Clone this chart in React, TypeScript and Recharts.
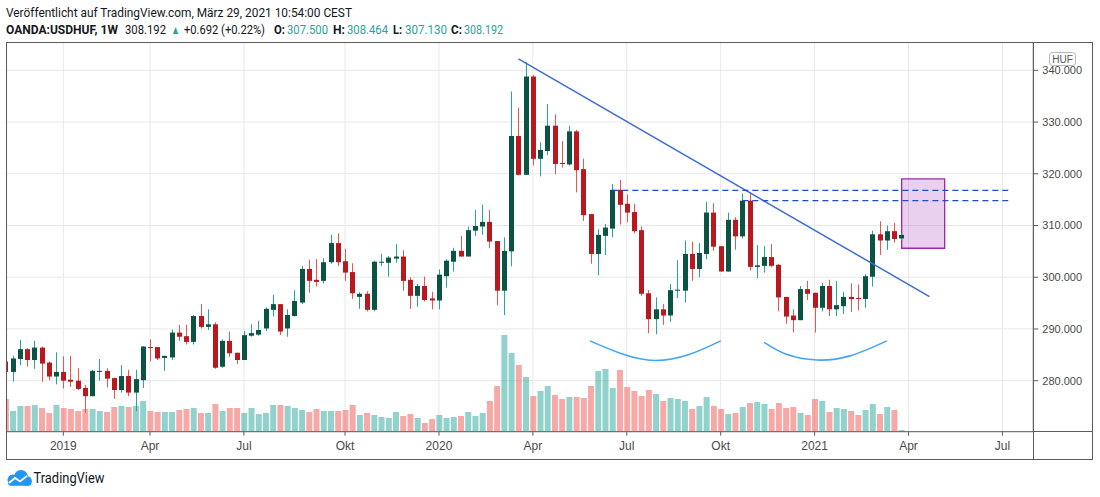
import React from "react";
import {
  Bar,
  CartesianGrid,
  Cell,
  ComposedChart,
  Line,
  ReferenceArea,
  ReferenceLine,
  XAxis,
  YAxis,
} from "recharts";

// OANDA:USDHUF weekly bars, first bar is the week of 2018-11-12
const FIRST_BAR = "2018-11-12";

const OPEN = [
  283.7, 281.7, 284.2, 286.1, 284.0, 286.4, 283.5, 280.8,
  281.7, 280.2, 280.0, 278.6, 277.0, 281.7, 281.9, 280.5, 278.2, 280.9,
  277.7, 280.1, 286.5, 286.5, 284.4, 284.5, 289.3, 288.6, 287.5, 292.5,
  290.4, 290.9, 282.7, 287.7, 285.4, 284.0, 288.7, 288.9, 290.1, 293.7,
  294.8, 290.1, 292.5, 295.1, 301.6, 299.5, 299.3, 302.9, 306.6, 303.1,
  301.0, 296.2, 296.8, 293.7, 302.8, 302.8, 303.6, 304.0, 299.5, 296.4,
  298.3, 295.9, 295.5, 300.2, 303.0, 305.1, 304.0, 309.0, 309.8, 310.7,
  307.0, 297.4, 305.0, 327.3, 319.8, 338.8, 322.9, 324.4, 329.3, 322.1,
  321.8, 328.2, 320.9, 312.2, 304.5, 308.0, 309.4, 316.9, 314.2, 312.6,
  309.1, 296.9, 291.9, 293.8, 292.6, 297.4, 297.4, 304.5, 301.6, 304.5,
  312.5, 306.0, 301.1, 311.1, 307.9, 314.8, 302.0, 302.2, 303.9, 302.4,
  296.2, 292.6, 291.7, 297.7, 297.0, 294.1, 298.3, 293.8, 294.4, 296.2,
  296.0, 295.8, 300.1, 308.3, 307.1, 308.9, 307.5,
];

const HIGH = [
  284.2, 284.8, 287.9, 286.3, 287.7, 286.6, 283.7, 285.5,
  284.7, 284.8, 282.4, 279.2, 282.1, 284.2, 282.4, 280.6, 283.0, 282.1,
  282.1, 286.7, 288.0, 286.5, 284.8, 289.9, 290.8, 290.8, 292.7, 294.8,
  293.8, 291.3, 288.0, 289.5, 285.4, 289.6, 290.9, 291.6, 294.2, 296.6,
  294.8, 293.8, 297.5, 302.2, 303.4, 303.5, 303.7, 308.2, 308.5, 305.5,
  302.7, 297.1, 297.3, 303.2, 304.5, 304.1, 306.4, 305.2, 300.0, 298.7,
  300.1, 297.2, 301.5, 303.5, 305.7, 308.0, 309.8, 313.0, 314.0, 313.0,
  307.0, 307.7, 335.9, 332.8, 341.6, 339.1, 326.1, 333.5, 331.5, 326.3,
  329.3, 328.5, 322.9, 312.2, 309.3, 310.3, 318.0, 318.8, 316.0, 314.2,
  309.8, 297.5, 296.1, 294.8, 298.7, 303.3, 307.1, 306.9, 306.6, 314.6,
  314.3, 306.0, 312.5, 311.6, 316.2, 316.4, 306.2, 306.0, 306.4, 302.6,
  296.2, 293.8, 298.3, 299.3, 297.0, 298.9, 299.5, 299.3, 297.2, 298.8,
  298.6, 300.6, 309.0, 310.8, 310.0, 310.5, 308.464,
];

const LOW = [
  281.0, 279.8, 283.0, 282.7, 282.3, 279.8, 280.1, 279.3,
  278.5, 278.8, 278.2, 273.8, 277.0, 280.0, 278.7, 276.5, 277.7, 277.0,
  274.1, 278.6, 283.7, 284.0, 281.9, 284.0, 287.7, 287.0, 287.0, 290.1,
  289.8, 282.3, 282.5, 284.6, 283.2, 284.0, 288.5, 288.7, 289.6, 292.4,
  288.8, 288.5, 292.4, 294.8, 297.0, 298.2, 298.8, 302.6, 302.2, 299.3,
  295.8, 293.9, 293.4, 293.4, 302.2, 300.1, 302.8, 297.4, 293.9, 294.3,
  295.3, 293.8, 293.8, 298.0, 301.1, 304.0, 304.0, 308.0, 308.2, 305.6,
  294.6, 292.7, 302.1, 319.7, 319.8, 321.6, 319.5, 323.6, 319.9, 321.2,
  321.6, 316.4, 310.9, 302.6, 300.4, 304.3, 307.7, 310.2, 310.6, 308.5,
  296.4, 289.2, 289.0, 290.8, 291.4, 296.0, 295.1, 299.3, 300.0, 303.5,
  305.1, 301.1, 301.1, 305.3, 307.5, 301.3, 299.8, 300.9, 301.9, 293.4,
  291.0, 289.3, 291.7, 295.6, 289.3, 293.4, 292.5, 292.5, 292.9, 293.3,
  293.6, 294.1, 298.2, 304.3, 305.3, 306.7, 307.13,
];

const CLOSE = [
  281.7, 284.3, 286.1, 284.0, 286.4, 283.3, 280.8, 281.7,
  280.0, 279.8, 278.4, 277.0, 281.9, 281.9, 280.4, 278.2, 280.9, 277.7,
  280.3, 286.6, 286.3, 284.3, 284.8, 289.3, 288.5, 287.5, 292.5, 290.4,
  290.9, 282.5, 287.7, 285.3, 284.0, 288.8, 289.2, 289.8, 293.9, 294.8,
  289.5, 292.7, 295.4, 301.6, 299.3, 299.1, 302.9, 306.6, 302.9, 300.9,
  296.9, 296.8, 293.7, 303.0, 303.0, 303.8, 304.0, 299.3, 296.4, 298.3,
  295.6, 295.5, 300.5, 303.2, 305.1, 304.0, 309.1, 309.9, 310.7, 306.9,
  297.4, 305.1, 327.3, 319.8, 338.8, 322.9, 324.6, 329.3, 321.9, 321.9,
  328.2, 320.7, 312.0, 304.5, 308.2, 309.6, 316.9, 314.0, 312.5, 308.9,
  296.8, 291.9, 293.8, 292.6, 297.5, 297.6, 304.5, 301.6, 304.7, 312.5,
  305.9, 301.1, 311.1, 307.9, 314.8, 302.0, 302.3, 303.9, 302.2, 296.1,
  292.4, 291.7, 297.7, 296.8, 294.1, 298.3, 293.8, 294.6, 296.2, 295.8,
  295.8, 300.2, 308.3, 307.1, 308.9, 307.4, 308.192,
];

// volume, arbitrary units
const VOLUME = [
  327, 207, 257, 257, 267, 237, 187, 267,
  237, 227, 207, 227, 227, 207, 197, 247, 257, 247,
  257, 307, 207, 197, 197, 197, 217, 227, 237, 187,
  187, 277, 207, 237, 237, 187, 237, 177, 187, 267,
  267, 257, 237, 217, 197, 227, 207, 207, 207, 217,
  267, 167, 187, 167, 147, 137, 197, 157, 177, 137,
  87, 127, 167, 137, 147, 157, 197, 157, 187, 307,
  457, 967, 787, 667, 547, 357, 407, 457, 367, 327,
  347, 347, 337, 457, 607, 627, 437, 617, 447, 407,
  357, 417, 377, 307, 337, 327, 307, 227, 257, 347,
  257, 227, 177, 187, 247, 287, 297, 277, 227, 287,
  237, 247, 187, 167, 327, 307, 197, 237, 227, 207,
  167, 217, 277, 177, 247, 217, 17,
];

// first weekly bar of each labelled month
const TIME_TICKS = [
  ["2019-01-07", "2019"],
  ["2019-04-01", "Apr"],
  ["2019-07-01", "Jul"],
  ["2019-10-07", "Okt"],
  ["2020-01-06", "2020"],
  ["2020-04-06", "Apr"],
  ["2020-07-06", "Jul"],
  ["2020-10-05", "Okt"],
  ["2021-01-04", "2021"],
  ["2021-04-05", "Apr"],
  ["2021-07-05", "Jul"],
];

const PRICE_TICKS = [280, 290, 300, 310, 320, 330, 340];

// drawings, x in weeks since FIRST_BAR
const TRENDLINE = [
  { x: 71.0, y: 342.2 },
  { x: 127.9, y: 296.25 },
];
const LEVELS = [
  { from: 84, to: 138.8, price: 316.8 },
  { from: 102, to: 138.8, price: 314.8 },
];
const TARGET_BOX = { x1: 124.05, x2: 130.0, y1: 305.6, y2: 319.0 };
const ARC_LEFT = [
  { x: 80.9, y: 287.7 },
  { x: 85.5, y: 285.1 },
  { x: 89.9, y: 283.9 },
  { x: 94.5, y: 285.0 },
  { x: 99.0, y: 287.7 },
];
const ARC_RIGHT = [
  { x: 105.0, y: 287.4 },
  { x: 108.1, y: 285.1 },
  { x: 112.3, y: 284.0 },
  { x: 116.9, y: 284.8 },
  { x: 122.0, y: 287.7 },
];

const X_DOMAIN = [0.165, 142.27];
const PRICE_DOMAIN = [270.14, 345.34];
const VOLUME_DOMAIN = [0, 3890];

const WEEK_MS = 7 * 24 * 3600 * 1000;
const weekOf = (iso: string) => Math.round((Date.parse(iso) - Date.parse(FIRST_BAR)) / WEEK_MS);

const tickWeeks = TIME_TICKS.map(([d]) => weekOf(d));
const tickLabel = new Map(TIME_TICKS.map(([d, l]) => [weekOf(d), l]));

const data = OPEN.map((open, i) => ({
  x: i,
  open,
  high: HIGH[i],
  low: LOW[i],
  close: CLOSE[i],
  volume: VOLUME[i],
}));

const UP_BODY = "#0b5443";
const UP_WICK = "#26a69a";
const DOWN_BODY = "#b9181e";
const DOWN_WICK = "#ef5350";
const AXIS = "#5c5c5c";
const TEXT = "#4a4a4a";
const FONT = "'Liberation Sans', Arial, sans-serif";
const BODY_W = 5;

function Candle(props: any) {
  const { x, y, width, height, payload } = props;
  const { open, close, high, low } = payload;
  const up = close >= open;
  const top = Math.min(y, y + height);
  const span = Math.abs(height);
  const py = (v: number) => top + ((high - v) / (high - low || 1)) * span;
  const cx = Math.round(x + width / 2) + 0.5;
  const bodyTop = py(Math.max(open, close));
  const bodyBot = py(Math.min(open, close));
  return (
    <g>
      <line x1={cx} x2={cx} y1={top} y2={top + span} stroke={up ? UP_WICK : DOWN_WICK} strokeWidth={1} />
      <rect
        x={cx - BODY_W / 2}
        y={bodyTop}
        width={BODY_W}
        height={Math.max(1, bodyBot - bodyTop)}
        fill={up ? UP_BODY : DOWN_BODY}
      />
    </g>
  );
}

const QUOTE = [
  { t: "OANDA:USDHUF, 1W", x: 6, w: 112, bold: true },
  { t: "308.192", x: 125, w: 41 },
  { t: "▲", x: 171, w: 9, teal: true },
  { t: "+0.692 (+0.22%)", x: 184, w: 81 },
  { t: "O:", x: 274, w: 11, bold: true },
  { t: "307.500", x: 287, w: 41, teal: true },
  { t: "H:", x: 333, w: 12, bold: true },
  { t: "308.464", x: 347, w: 41, teal: true },
  { t: "L:", x: 393, w: 9, bold: true },
  { t: "307.130", x: 405, w: 42, teal: true },
  { t: "C:", x: 451, w: 11, bold: true },
  { t: "308.192", x: 464, w: 39, teal: true },
];

function Header() {
  return (
    <svg width={1100} height={40} style={{ position: "absolute", left: 0, top: 0 }}>
      <text
        x={6}
        y={16.5}
        fontFamily="Roboto, sans-serif"
        fontSize={13.5}
        fill="#131722"
        textLength={346}
        lengthAdjust="spacingAndGlyphs"
      >
        Veröffentlicht auf TradingView.com, März 29, 2021 10:54:00 CEST
      </text>
      {QUOTE.map((q) => (
        <text
          key={q.x}
          x={q.x}
          y={33.5}
          fontFamily="Roboto, sans-serif"
          fontSize={12}
          fontWeight={q.bold ? 700 : 400}
          fill={q.teal ? "#26a69a" : "#131722"}
          textLength={q.w}
          lengthAdjust="spacingAndGlyphs"
        >
          {q.t}
        </text>
      ))}
    </svg>
  );
}

function Frame() {
  return (
    <svg
      width={1100}
      height={497}
      style={{ position: "absolute", left: 0, top: 0, pointerEvents: "none" }}
    >
      <rect x={6.5} y={42.5} width={1086} height={417} fill="none" stroke={AXIS} strokeWidth={1} />
      <line x1={1033.5} x2={1033.5} y1={42.5} y2={459.5} stroke={AXIS} />
      <line x1={1033.5} x2={1092.5} y1={431.5} y2={431.5} stroke={AXIS} />
      <rect x={1049.5} y={52.5} width={26} height={13} rx={3} fill="#fff" stroke="#b8b8b8" />
      <text x={1062.5} y={62.5} textAnchor="middle" fontFamily={FONT} fontSize={10} fill="#555">
        HUF
      </text>
      {/* TradingView logo */}
      <g fill="#2196f3">
        <circle cx={13} cy={480} r={5.5} />
        <circle cx={21} cy={477} r={7} />
        <circle cx={27} cy={481} r={4.8} />
        <rect x={8} y={479} width={23.5} height={6.8} rx={3} />
      </g>
      <polyline points="9,483 15,478 20,481.5 27,476" fill="none" stroke="#fff" strokeWidth={1.8} />
      <text
        x={33.5}
        y={483}
        fontFamily="Roboto, sans-serif"
        fontSize={15}
        fill="#131722"
        textLength={71}
        lengthAdjust="spacingAndGlyphs"
      >
        TradingView
      </text>
    </svg>
  );
}

export default function App() {
  return (
    <div
      style={{
        position: "absolute",
        left: 0,
        top: 0,
        width: 1100,
        height: 497,
        background: "#fff",
        fontFamily: FONT,
      }}
    >
      <Header />
      <div style={{ position: "absolute", left: 0, top: 0 }}>
        <ComposedChart
          width={1100}
          height={497}
          data={data}
          margin={{ top: 42.7, right: 7.7, bottom: 37.3, left: 6.7 }}
        >
          <CartesianGrid xAxisId="t" yAxisId="p" stroke="#e8e8e8" />
          <XAxis
            xAxisId="t"
            dataKey="x"
            type="number"
            domain={X_DOMAIN}
            allowDataOverflow
            ticks={tickWeeks}
            interval={0}
            tickFormatter={(v) => tickLabel.get(v) ?? ""}
            height={28}
            tickSize={4}
            tickMargin={6}
            tick={{ fontSize: 12, fill: TEXT, fontFamily: FONT }}
            axisLine={{ stroke: AXIS }}
            tickLine={{ stroke: AXIS }}
          />
          <XAxis xAxisId="v" dataKey="x" type="number" domain={X_DOMAIN} allowDataOverflow hide />
          <YAxis
            yAxisId="p"
            orientation="right"
            type="number"
            domain={PRICE_DOMAIN}
            allowDataOverflow
            ticks={PRICE_TICKS}
            interval={0}
            tickFormatter={(v) => Number(v).toFixed(3)}
            width={59}
            tickSize={5}
            tickMargin={4}
            tick={{ fontSize: 11, fill: TEXT, fontFamily: FONT }}
            axisLine={{ stroke: AXIS }}
            tickLine={{ stroke: AXIS }}
          />
          <YAxis yAxisId="vol" type="number" domain={VOLUME_DOMAIN} allowDataOverflow hide />
          <Bar xAxisId="v" yAxisId="vol" dataKey="volume" barSize={6} isAnimationActive={false}>
            {data.map((d) => (
              <Cell
                key={d.x}
                fill={d.close >= d.open ? "#26a69a" : "#ef5350"}
                fillOpacity={0.5}
              />
            ))}
          </Bar>
          <Bar
            xAxisId="t"
            yAxisId="p"
            dataKey={(d: any) => [d.low, d.high]}
            barSize={5}
            shape={(p: any) => <Candle {...p} />}
            isAnimationActive={false}
          />
          <ReferenceLine
            xAxisId="t"
            yAxisId="p"
            segment={TRENDLINE}
            stroke="#3d6cd4"
            strokeWidth={1.5}
          />
          {LEVELS.map((l) => (
            <ReferenceLine
              key={l.price}
              xAxisId="t"
              yAxisId="p"
              segment={[
                { x: l.from, y: l.price },
                { x: l.to, y: l.price },
              ]}
              stroke="#1c4cc6"
              strokeWidth={1.3}
              strokeDasharray="6 4"
            />
          ))}
          <ReferenceArea
            xAxisId="t"
            yAxisId="p"
            x1={TARGET_BOX.x1}
            x2={TARGET_BOX.x2}
            y1={TARGET_BOX.y1}
            y2={TARGET_BOX.y2}
            fill="#9c27b0"
            fillOpacity={0.22}
            stroke="#9c27b0"
            strokeWidth={1.3}
          />
          <Line
            xAxisId="t"
            yAxisId="p"
            data={ARC_LEFT}
            dataKey="y"
            type="natural"
            stroke="#42a5f5"
            strokeWidth={1.6}
            dot={false}
            activeDot={false}
            isAnimationActive={false}
          />
          <Line
            xAxisId="t"
            yAxisId="p"
            data={ARC_RIGHT}
            dataKey="y"
            type="natural"
            stroke="#42a5f5"
            strokeWidth={1.6}
            dot={false}
            activeDot={false}
            isAnimationActive={false}
          />
        </ComposedChart>
      </div>
      <Frame />
    </div>
  );
}
